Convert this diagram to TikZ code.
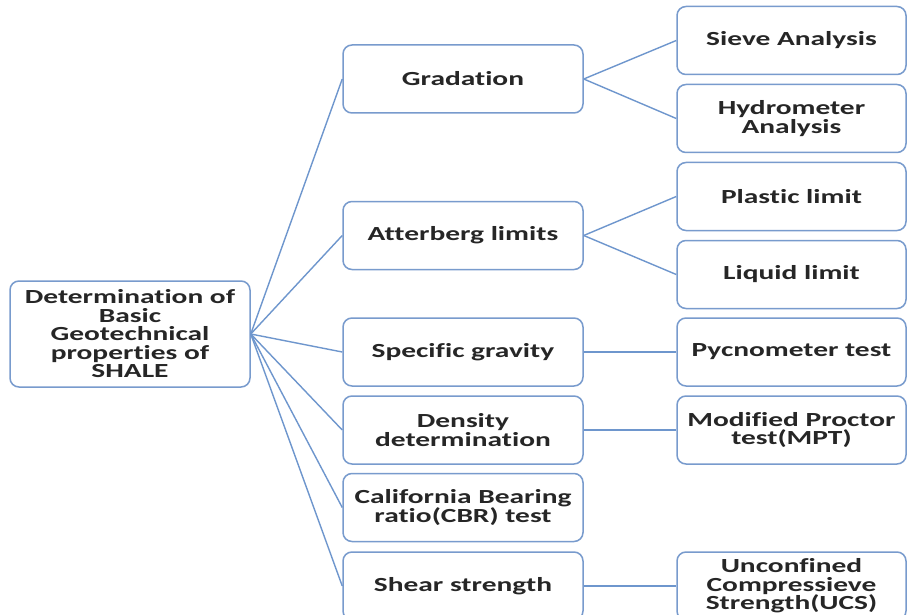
\documentclass[tikz,border=0pt]{standalone}
\usepackage{fontspec}
\setmainfont[FakeStretch=1.47, Ligatures={NoCommon}, BoldFont={* Bold}]{Carlito}
\definecolor{boxblue}{RGB}{120,155,205}
\definecolor{lineblue}{RGB}{110,150,205}
\begin{document}
\begin{tikzpicture}[x=1pt,y=-1pt,
  box/.style={draw=boxblue, line width=1.5pt, rounded corners=9pt, fill=white,
    align=center, inner sep=0pt, font=\fontsize{20}{18.5}\selectfont\bfseries, text=black!85},
  lone/.style={box, minimum width=240pt, minimum height=68pt},
  ltwo/.style={box, minimum width=229pt, minimum height=68pt},
  link/.style={draw=lineblue, line width=1.4pt}]
\path[use as bounding box] (0,0) rectangle (908,615);
\clip (0,0) rectangle (908,615);
\fill[white] (0,0) rectangle (908,615);

\node[box, minimum width=240pt, minimum height=106pt] (root) at (130,334)
  {Determination of\\Basic\\Geotechnical\\properties of\\SHALE};

\node[lone] (grad) at (463,79) {Gradation};
\node[lone] (att) at (463,235.5) {Atterberg limits};
\node[lone] (sg) at (463,352) {Specific gravity};
\node[lone] (den) at (463,430) {Density\\determination};
\node[lone] (cbr) at (463,507.5) {California Bearing\\ratio(CBR) test};
\node[lone] (shear) at (463,586) {Shear strength};

\node[ltwo] (sieve) at (791.5,40.5) {Sieve Analysis};
\node[ltwo] (hydro) at (791.5,118.5) {Hydrometer\\Analysis};
\node[ltwo] (plastic) at (791.5,196.5) {Plastic limit};
\node[ltwo] (liquid) at (791.5,274.5) {Liquid limit};
\node[ltwo] (pyc) at (791.5,352) {Pycnometer test};
\node[ltwo] (mpt) at (791.5,430) {Modified Proctor\\test(MPT)};
\node[ltwo] (ucs) at (791.5,586) {Unconfined\\Compressieve\\Strength(UCS)};

\foreach \n in {grad,att,sg,den,cbr,shear}
  \draw[link] (root.east) -- (\n.west);
\draw[link] (grad.east) -- (sieve.west);
\draw[link] (grad.east) -- (hydro.west);
\draw[link] (att.east) -- (plastic.west);
\draw[link] (att.east) -- (liquid.west);
\draw[link] (sg.east) -- (pyc.west);
\draw[link] (den.east) -- (mpt.west);
\draw[link] (shear.east) -- (ucs.west);
\end{tikzpicture}
\end{document}
